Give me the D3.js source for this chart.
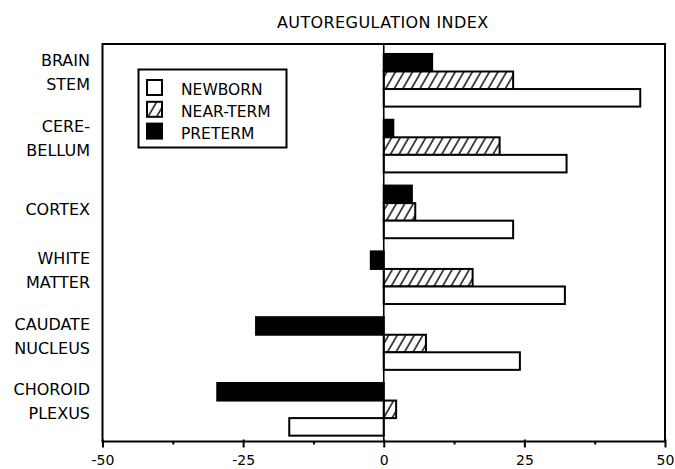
<!DOCTYPE html>
<html>
  <head>
    <meta charset="utf-8">
    <script src="https://cdn.jsdelivr.net/npm/d3@7"></script>
    <style>
      body { margin: 0; background: #fff; overflow: hidden; }
      svg { display: block; font-family: "DejaVu Sans", sans-serif; }
    </style>
  </head>
  <body>
    <svg id="chart" width="675" height="469"></svg>
    <script>
      // regions top to bottom, label split into lines
      var regions = ["BRAIN STEM", "CEREBELLUM", "CORTEX", "WHITE MATTER", "CAUDATE NUCLEUS", "CHOROID PLEXUS"];
      var regionLines = [["BRAIN", "STEM"], ["CERE-", "BELLUM"], ["CORTEX"], ["WHITE", "MATTER"], ["CAUDATE", "NUCLEUS"], ["CHOROID", "PLEXUS"]];

      var preterm  = [8.6, 1.7, 5.0, -2.3, -22.7, -29.6];
      var nearTerm = [23.0, 20.6, 5.6, 15.8, 7.5, 2.2];
      var newborn  = [45.6, 32.5, 23.0, 32.2, 24.2, -16.8];

      var groups = ["PRETERM", "NEAR-TERM", "NEWBORN"];
      var legendOrder = ["NEWBORN", "NEAR-TERM", "PRETERM"];
      var xTicks = [-50, -25, 0, 25, 50];
      var xMinorTicks = [-37.5, -12.5, 12.5, 37.5];

      var seriesValues = { "PRETERM": preterm, "NEAR-TERM": nearTerm, "NEWBORN": newborn };
      var fills = { "PRETERM": "#000", "NEAR-TERM": "url(#hatch)", "NEWBORN": "#fff" };

      var svg = d3.select("#chart");
      var plotLeft = 102.5, plotRight = 665, plotTop = 44, plotBottom = 441.5;

      var x = d3.scaleLinear().domain([-50, 50]).range([plotLeft, plotRight]);
      var y = d3.scaleBand().domain(regions).range([plotTop, plotBottom])
        .paddingInner(0.2).paddingOuter(0.12).align(0.63);
      var ySub = d3.scaleBand().domain(groups).range([0, y.bandwidth()]);

      // hatch pattern
      var defs = svg.append("defs");
      var pat = defs.append("pattern").attr("id", "hatch")
        .attr("patternUnits", "userSpaceOnUse")
        .attr("width", 7.4).attr("height", 20)
        .attr("patternTransform", "rotate(30)");
      pat.append("rect").attr("width", 7.4).attr("height", 20).attr("fill", "#fff");
      pat.append("line").attr("x1", 1).attr("y1", 0).attr("x2", 1).attr("y2", 20)
        .attr("stroke", "#000").attr("stroke-width", 1.4);

      // bars
      var rows = [];
      regions.forEach(function(r, i) {
        groups.forEach(function(g) {
          rows.push({ region: r, group: g, value: seriesValues[g][i] });
        });
      });

      svg.append("g").selectAll("rect").data(rows).enter().append("rect")
        .attr("x", function(d) { return x(Math.min(0, d.value)); })
        .attr("y", function(d) { return y(d.region) + ySub(d.group); })
        .attr("width", function(d) { return Math.abs(x(d.value) - x(0)); })
        .attr("height", ySub.bandwidth())
        .attr("fill", function(d) { return fills[d.group]; })
        .attr("stroke", "#000")
        .attr("stroke-width", 2);

      // frame and zero line
      svg.append("rect").attr("x", plotLeft).attr("y", plotTop)
        .attr("width", plotRight - plotLeft).attr("height", plotBottom - plotTop)
        .attr("fill", "none").attr("stroke", "#000").attr("stroke-width", 2);
      svg.append("line").attr("x1", x(0)).attr("x2", x(0)).attr("y1", plotTop).attr("y2", plotBottom)
        .attr("stroke", "#000").attr("stroke-width", 1.6);

      // x axis
      var xAxis = svg.append("g").attr("transform", "translate(0," + plotBottom + ")")
        .call(d3.axisBottom(x).tickValues(xTicks).tickSize(6).tickPadding(8)
          .tickFormat(function(d) { return d; }));
      xAxis.select(".domain").remove();
      xAxis.selectAll("line").attr("stroke-width", 2).attr("y1", -2);
      xAxis.selectAll("text").attr("font-size", 14).attr("font-family", "DejaVu Sans").attr("fill", "#000");

      var xMinor = svg.append("g").attr("transform", "translate(0," + plotBottom + ")")
        .call(d3.axisBottom(x).tickValues(xMinorTicks).tickSize(3).tickFormat(""));
      xMinor.select(".domain").remove();
      xMinor.selectAll("line").attr("stroke-width", 2);

      // region labels
      var labels = svg.append("g").selectAll("text").data(regions).enter().append("text")
        .attr("text-anchor", "end")
        .attr("font-size", 16)
        .attr("fill", "#000");
      labels.each(function(r, i) {
        var lines = regionLines[i];
        var cy = y(r) + y.bandwidth() / 2;
        d3.select(this).selectAll("tspan").data(lines).enter().append("tspan")
          .attr("x", 90)
          .attr("y", function(d, j) { return lines.length === 1 ? cy + 3 : cy - 14 + 24 * j; })
          .text(function(d) { return d; });
      });

      // title
      svg.append("text").attr("x", x(0) - 1).attr("y", 28)
        .attr("text-anchor", "middle").attr("font-size", 16)
        .attr("letter-spacing", 0.4)
        .text("AUTOREGULATION INDEX");

      // legend
      var legend = svg.append("g");
      legend.append("rect").attr("x", 138.5).attr("y", 69.5).attr("width", 148).attr("height", 78)
        .attr("fill", "#fff").attr("stroke", "#000").attr("stroke-width", 2);
      var items = legend.selectAll("g.item").data(legendOrder).enter().append("g")
        .attr("transform", function(d, i) { return "translate(147," + (80 + 21.8 * i) + ")"; });
      items.append("rect").attr("width", 15).attr("height", 15)
        .attr("fill", function(d) { return fills[d]; })
        .attr("stroke", "#000").attr("stroke-width", 2);
      items.append("text").attr("x", 34).attr("y", 15)
        .attr("font-size", 15.5)
        .text(function(d) { return d; });
    </script>
  </body>
</html>
